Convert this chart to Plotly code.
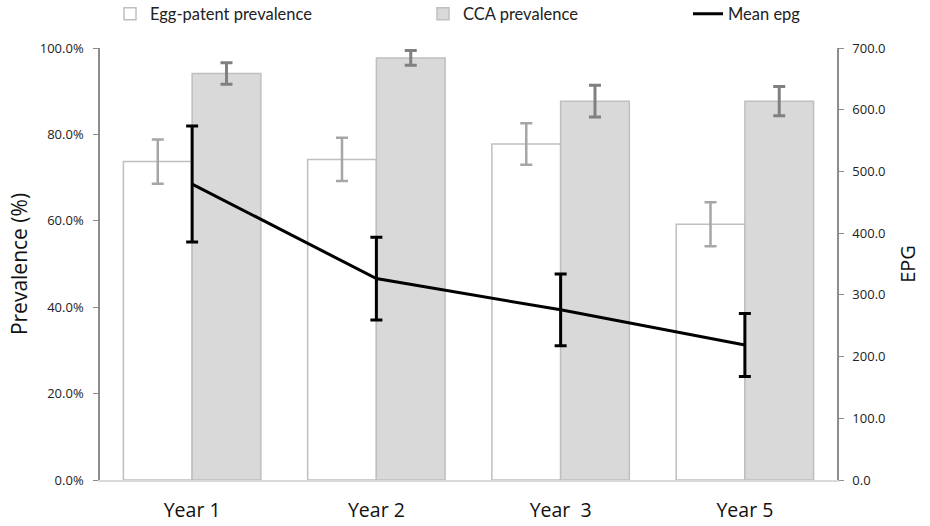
import plotly.graph_objects as go

years = ["Year 1", "Year 2", "Year  3", "Year 5"]
egg_prev = [73.7, 74.2, 77.8, 59.2]
egg_err = [5.1, 5.0, 4.8, 5.1]
cca_prev = [94.1, 97.7, 87.7, 87.7]
cca_err = [2.5, 1.7, 3.7, 3.4]
mean_epg = [479.5, 326.4, 275.7, 218.9]
epg_err = [94.0, 67.0, 58.0, 51.0]

FONT = "Open Sans"
LEGFONT = "Lato"
W, H = 930, 526

fig = go.Figure()
fig.add_trace(go.Bar(
    x=years, y=egg_prev, name="Egg-patent prevalence",
    marker=dict(color="white", line=dict(color="#bfbfbf", width=1.5)),
    error_y=dict(type="data", array=egg_err, color="#a6a6a6", thickness=2.5, width=6),
    legend="legend",
))
fig.add_trace(go.Bar(
    x=years, y=cca_prev, name="CCA prevalence",
    marker=dict(color="#d9d9d9", line=dict(color="#bfbfbf", width=1.5)),
    error_y=dict(type="data", array=cca_err, color="#808080", thickness=3, width=6),
    legend="legend2",
))
fig.add_trace(go.Scatter(
    x=years, y=mean_epg, name="Mean epg", yaxis="y2", mode="lines",
    line=dict(color="black", width=3),
    error_y=dict(type="data", array=epg_err, color="black", thickness=3, width=6),
    legend="legend3",
))

leg_common = dict(orientation="h", xref="container", yref="container",
                  xanchor="left", yanchor="middle", y=1 - 14 / H,
                  font=dict(family=LEGFONT, size=16.5, color="#222"),
                  bgcolor="rgba(0,0,0,0)", itemwidth=30)

fig.update_layout(
    width=W, height=H,
    margin=dict(l=100, r=93, t=48, b=46, autoexpand=False),
    paper_bgcolor="white", plot_bgcolor="white",
    barmode="group", bargap=0.254, bargroupgap=0,
    showlegend=True,
    legend=dict(x=110 / W, **leg_common),
    legend2=dict(x=423 / W, **leg_common),
    legend3=dict(x=688 / W, **leg_common),
    font=dict(family=FONT, color="#222"),
    xaxis=dict(
        showline=True, linecolor="#d9d9d9", linewidth=1.5, automargin=False,
        ticks="", tickfont=dict(family=FONT, size=19.5, color="#111"),
        ticklabelstandoff=12, showgrid=False,
    ),
    yaxis=dict(
        range=[0, 100], dtick=20, tickformat=".1f", ticksuffix="%",
        showline=True, linecolor="#8c8c8c", linewidth=1.5, automargin=False,
        ticks="outside", ticklen=5, tickcolor="#8c8c8c",
        tickfont=dict(family=FONT, size=13, color="#222"),
        ticklabelstandoff=7,
        showgrid=False, zeroline=False,
        title=dict(text="Prevalence (%)", font=dict(family=FONT, size=21, color="#111"), standoff=6),
    ),
    yaxis2=dict(
        range=[0, 700], dtick=100, tickformat=".1f", overlaying="y", side="right",
        showline=True, linecolor="#8c8c8c", linewidth=1.5, automargin=False,
        ticks="outside", ticklen=5, tickcolor="#8c8c8c",
        tickfont=dict(family=FONT, size=13, color="#222"),
        ticklabelstandoff=6,
        showgrid=False, zeroline=False,
        title=dict(text="EPG", font=dict(family=FONT, size=20, color="#111"), standoff=16),
    ),
)

fig.write_html("out.html")
